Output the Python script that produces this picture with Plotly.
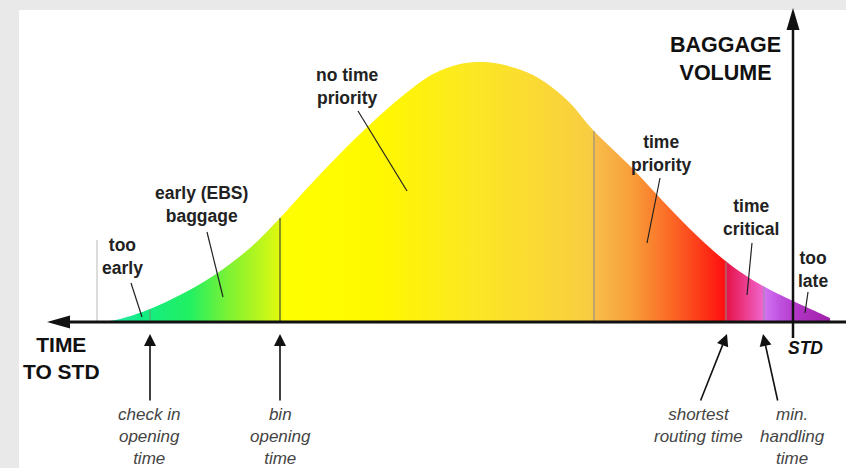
import numpy as np
import plotly.graph_objects as go

# ---- data (position along the time axis, baggage volume) ----
position = [103, 120, 150, 180, 213, 250, 280, 300, 330, 360, 400, 433, 460, 480,
            500, 533, 567, 593, 633, 660, 690, 723, 745, 763, 793, 815, 830]
volume = [0, 3, 13, 27, 46, 74, 104, 126, 158, 188, 224, 248, 258, 260,
          258, 247, 222, 192, 153, 124, 93, 63, 47, 36, 21, 11, 4]

# milestone positions (vertical dividers in the area)
milestone_x = [150, 280, 594, 726, 764]
too_early_x = 97
std_x = 793

# gradient colour stops along the time axis
grad_x = [103, 140, 190, 230, 276, 280, 283, 380, 470, 560, 592, 596, 630, 670,
          700, 724, 727, 745, 762, 765, 780, 800, 830]
grad_c = ["#3ae6b4", "#12ec84", "#22f062", "#80f232", "#d8f812", "#e6f806", "#ffff00",
          "#fff800", "#fce822", "#fad43a", "#f8cc42", "#f8bc4a", "#f8a03a", "#fb6a26",
          "#fc3a18", "#ff1010", "#e4144a", "#ec3c8c", "#f062c8", "#d272f0", "#c052e0",
          "#b032c2", "#a020a8"]

# region labels: text, x, y (volume units)
region_labels = [
    ("no time<br>priority", 347, 236),
    ("early (EBS)<br>baggage", 201, 118),
    ("too<br>early", 122, 66),
    ("time<br>priority", 661, 169),
    ("time<br>critical", 751, 105),
    ("too<br>late", 813, 53),
]
# leader lines for the region labels: (x0, y0, x1, y1)
leaders = [
    (358, 211, 407, 131),
    (207, 90, 223, 25),
    (131, 39, 142, 5),
    (660, 144, 647, 79),
    (752, 79, 747, 27),
    (808, 30, 805, 9),
]
# event labels below the axis: text, x, arrow tail x, arrow head x
events = [
    ("check in<br>opening<br>time", 149, 150, 150),
    ("bin<br>opening<br>time", 280, 280, 280),
    ("shortest<br>routing time", 698, 700, 727),
    ("min.<br>handling<br>time", 792, 778, 763),
]

FONT = "Liberation Sans, Arial, sans-serif"

fig = go.Figure()

lo, hi = grad_x[0], grad_x[-1]
colorscale = [[(gx - lo) / (hi - lo), c] for gx, c in zip(grad_x, grad_c)]

fig.add_trace(go.Scatter(
    x=position, y=volume, mode="lines", line=dict(width=0, shape="spline", smoothing=1.0),
    fill="tozeroy",
    fillgradient=dict(type="horizontal", colorscale=colorscale, start=lo, stop=hi),
    hoverinfo="skip", showlegend=False,
))

shapes = []
# white panel
shapes.append(dict(type="rect", xref="paper", yref="paper", x0=19 / 846, x1=1,
                   y0=0, y1=1 - 10 / 468, fillcolor="white", line=dict(width=0),
                   layer="below"))

# dividers
shapes.append(dict(type="line", x0=too_early_x, x1=too_early_x, y0=0, y1=82,
                   line=dict(color="#b8b8b8", width=1)))
div_colors = ["#5aa878", "#4a4a3a", "#9a9080", "#a07a7a", "#a888b8"]
for mx, col in zip(milestone_x, div_colors):
    top = float(np.interp(mx, position, volume))
    shapes.append(dict(type="line", x0=mx, x1=mx, y0=0, y1=top,
                       line=dict(color=col, width=1.2)))

# leader lines
for x0, y0, x1, y1 in leaders:
    shapes.append(dict(type="line", x0=x0, y0=y0, x1=x1, y1=y1,
                       line=dict(color="#222", width=1.2)))

# main axes
shapes.append(dict(type="line", x0=66, x1=846, y0=0, y1=0,
                   line=dict(color="#111", width=3)))
shapes.append(dict(type="path", path="M 47 0 L 70 6.5 L 70 -6.5 Z",
                   fillcolor="#111", line=dict(width=0)))
shapes.append(dict(type="line", x0=std_x, x1=std_x, y0=-16, y1=296,
                   line=dict(color="#111", width=2.5)))
shapes.append(dict(type="path", path=f"M {std_x} 314 L {std_x - 6.5} 292 L {std_x + 6.5} 292 Z",
                   fillcolor="#111", line=dict(width=0)))

annotations = []
for txt, x, y in region_labels:
    annotations.append(dict(x=x, y=y, text=f"<b>{txt}</b>", showarrow=False,
                            font=dict(family=FONT, size=17.5, color="#222"),
                            xanchor="center", yanchor="middle"))

for txt, tx, tail_x, head_x in events:
    annotations.append(dict(x=tx, y=-81, text=f"<i>{txt}</i>", showarrow=False,
                            font=dict(family=FONT, size=17, color="#444"),
                            xanchor="center", yanchor="top"))
    annotations.append(dict(x=head_x, y=-12, ax=tail_x, ay=-80, axref="x", ayref="y",
                            text="", showarrow=True, arrowhead=2, arrowsize=1.5,
                            arrowwidth=1.6, arrowcolor="#111", standoff=0))

annotations += [
    dict(x=725, y=263, text="<b>BAGGAGE<br>VOLUME</b>", showarrow=False,
         font=dict(family=FONT, size=21.5, color="#111"), xanchor="center", yanchor="middle"),
    dict(x=61, y=-36, text="<b>TIME<br>TO STD</b>", showarrow=False,
         font=dict(family=FONT, size=21, color="#111"), xanchor="center", yanchor="middle"),
    dict(x=805, y=-26, text="<b><i>STD</i></b>", showarrow=False,
         font=dict(family=FONT, size=17.5, color="#111"), xanchor="center", yanchor="middle"),
]

fig.update_layout(
    width=846, height=468, margin=dict(l=0, r=0, t=0, b=0),
    paper_bgcolor="#e9e9e9", plot_bgcolor="rgba(0,0,0,0)",
    xaxis=dict(range=[0, 846], visible=False, fixedrange=True),
    yaxis=dict(range=[-146, 322], visible=False, fixedrange=True),
    shapes=shapes, annotations=annotations, showlegend=False,
)

fig.write_html(
    "out.html",
    config={"displayModeBar": False},
    post_script="document.body.style.margin='0';document.body.style.overflow='hidden';",
)
